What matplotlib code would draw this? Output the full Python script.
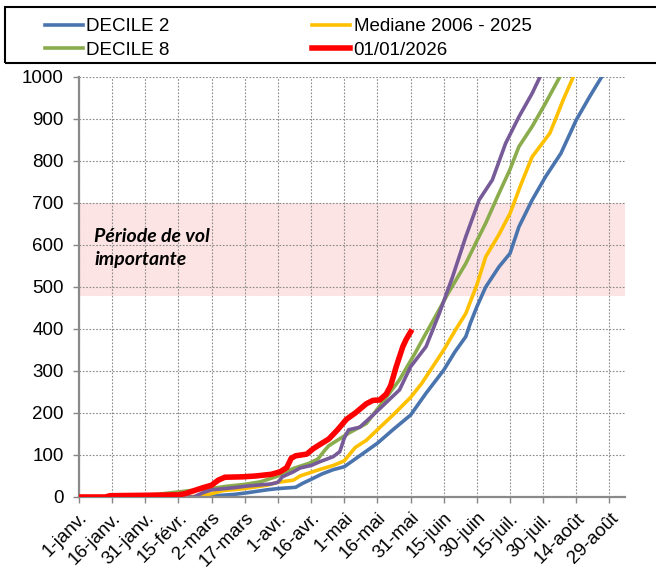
import matplotlib

matplotlib.use("Agg")
import matplotlib.pyplot as plt
from matplotlib.patches import Rectangle

plt.rcParams["font.family"] = ["Liberation Sans", "DejaVu Sans"]

# x axis: days since 1 January
tick_days = [0, 15, 30, 45, 60, 75, 90, 105, 120, 135, 150, 165, 180, 195, 210, 225, 240]
tick_labels = ["1-janv.", "16-janv.", "31-janv.", "15-févr.", "2-mars", "17-mars", "1-avr.",
               "16-avr.", "1-mai", "16-mai", "31-mai", "15-juin", "30-juin", "15-juil.",
               "30-juil.", "14-août", "29-août"]

decile2_days = [0, 55, 62, 70, 76, 85, 90, 98, 101, 105, 110, 115, 120, 127, 135, 142, 150,
                157, 165, 170, 175, 177, 180, 184, 190, 195, 199, 205, 211, 218, 225, 231, 237]
decile2_vals = [0, 0, 3, 6, 10, 17, 20, 23, 32, 42, 55, 65, 72, 98, 128, 160, 195,
                247, 302, 345, 382, 413, 453, 500, 548, 580, 643, 707, 762, 818, 898, 953, 1005]

median_days = [0, 50, 58, 65, 75, 85, 90, 97, 100, 108, 115, 120, 125, 130, 136, 143, 150,
               155, 160, 165, 170, 175, 180, 184, 190, 195, 200, 205, 210, 213, 216, 219, 224]
median_vals = [0, 0, 5, 15, 20, 28, 35, 40, 50, 64, 75, 86, 118, 135, 165, 200, 237,
               270, 310, 350, 395, 437, 505, 572, 625, 675, 745, 810, 845, 866, 905, 945, 1005]

decile8_days = [0, 10, 20, 35, 50, 60, 66, 75, 82, 89, 93, 97, 104, 108, 111, 113, 116, 122,
                130, 137, 145, 152, 157, 162, 167, 175, 180, 184, 190, 195, 199, 205, 211, 218]
decile8_vals = [0, 0, 2, 6, 15, 20, 25, 30, 36, 48, 58, 68, 80, 90, 110, 122, 132, 152,
                175, 223, 279, 342, 390, 437, 485, 556, 610, 652, 723, 780, 834, 882, 937, 1005]

year_days = [0, 52, 56, 60, 70, 76, 87, 90, 92, 97, 100, 105, 109, 115, 118, 120, 122, 127,
             132, 137, 145, 150, 157, 163, 169, 175, 181, 187, 193, 199, 205, 209]
year_vals = [0, 0, 10, 17, 22, 26, 31, 35, 48, 60, 69, 75, 84, 96, 108, 140, 160, 166,
             190, 215, 255, 310, 358, 437, 524, 620, 707, 755, 842, 905, 961, 1005]

current_days = [0, 12, 14, 30, 45, 48, 52, 56, 60, 63, 66, 74, 80, 87, 91, 94, 96, 98, 103,
                106, 109, 113, 117, 121, 125, 130, 133, 136, 139, 141, 143.5, 146.5, 148, 150]
current_vals = [0, 0, 3, 4, 5, 8, 15, 22, 28, 40, 47, 48, 50, 54, 60, 70, 92, 98, 102,
                115, 125, 138, 160, 185, 200, 222, 230, 231, 245, 265, 310, 358, 375, 393]

band_low, band_high = 478, 700

fig = plt.figure(figsize=(6.56, 5.67), dpi=100)
ax = fig.add_axes([0.1204, 0.1235, 0.8323, 0.7407])

ax.axhspan(band_low, band_high, color="#fde4e4", zorder=0.4, lw=0)

ax.plot(decile2_days, decile2_vals, color="#4a74ae", lw=2.6, label="DECILE 2", zorder=2)
ax.plot(median_days, median_vals, color="#ffc000", lw=2.6, label="Mediane 2006 - 2025", zorder=2)
ax.plot(decile8_days, decile8_vals, color="#8aac4c", lw=2.6, label="DECILE 8", zorder=2)
ax.plot(year_days, year_vals, color="#775a98", lw=2.6, zorder=2)
ax.plot(current_days, current_vals, color="#ff0000", lw=4.0, label="01/01/2026", zorder=3)

ax.text(7, 592, "Période de vol\nimportante", fontsize=14, fontweight="bold", style="italic",
        family=["Lato", "DejaVu Sans"], va="center", ha="left", linespacing=1.45)

ax.set_xlim(0, 247)
ax.set_ylim(0, 1000)
ax.set_yticks(range(0, 1001, 100))
ax.set_xticks(tick_days)
ax.set_xticklabels(tick_labels, rotation=45, ha="right", rotation_mode="anchor")
ax.tick_params(labelsize=13.5, length=4, width=1, color="#888888", pad=5)
ax.tick_params(axis="y", pad=7)

ax.set_axisbelow(True)
ax.grid(True, color="#8a8a8a", linestyle=(0, (1.5, 1.5)), linewidth=0.8)
for side in ("top", "right"):
    ax.spines[side].set_visible(False)
for side in ("left", "bottom"):
    ax.spines[side].set_color("#8a8a8a")
    ax.spines[side].set_linewidth(1.6)

# legend box runs off the right edge, as in the original
fig.patches.append(Rectangle((5 / 656, 1 - 63 / 567), 660 / 656, 56 / 567,
                             transform=fig.transFigure, fill=False, edgecolor="black", lw=1.5))
h, l = ax.get_legend_handles_labels()
order = [0, 2, 1, 3]
fig.legend([h[i] for i in order], [l[i] for i in order], ncol=2, frameon=False,
           loc="upper left", bbox_to_anchor=(32 / 656, 1 - 5 / 567),
           fontsize=13.5, handlelength=2.0, handletextpad=0.2, columnspacing=7.6,
           borderpad=0.2, labelspacing=0.35)

fig.savefig("out.png", dpi=100)
